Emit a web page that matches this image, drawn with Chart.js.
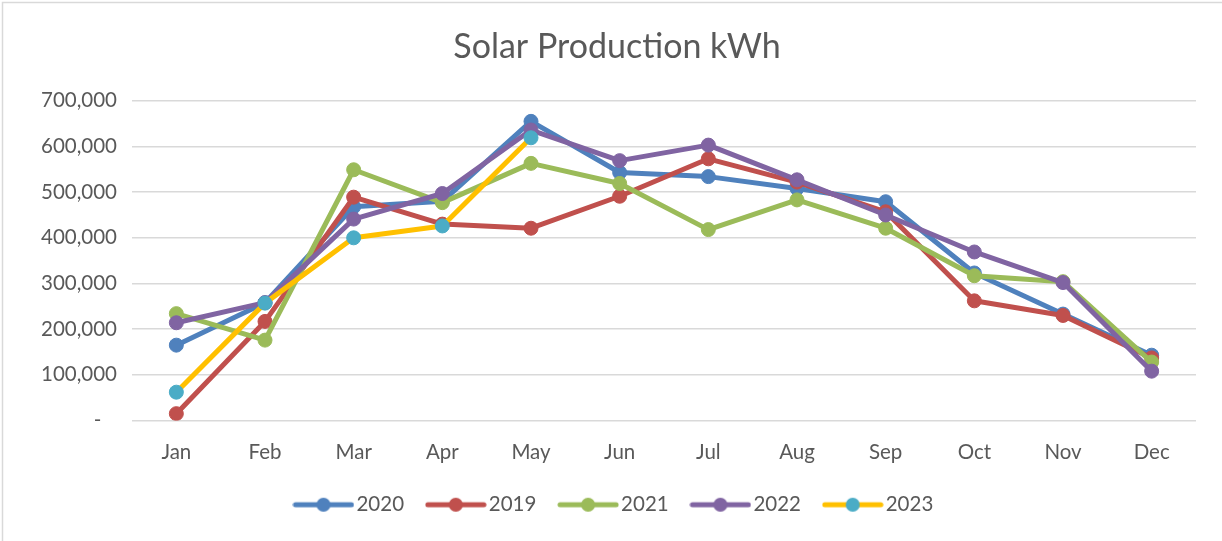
<!DOCTYPE html>
<html>
<head>
<meta charset="utf-8">
<title>Solar Production kWh</title>
<script src="https://cdn.jsdelivr.net/npm/chart.js@4.4.0/dist/chart.umd.min.js"></script>
<style>
    html, body { margin: 0; padding: 0; background: #fff; }
    #wrap { width: 1222px; height: 541px; }
</style>
</head>
<body>
<div id="wrap"><canvas id="solarChart" width="1222" height="541"></canvas></div>
<script>
// values (kWh per month)
const months = ['Jan', 'Feb', 'Mar', 'Apr', 'May', 'Jun', 'Jul', 'Aug', 'Sep', 'Oct', 'Nov', 'Dec'];
const prod2020 = [165000, 258000, 468000, 480000, 655000, 543000, 534000, 508000, 479000, 323000, 233000, 143000];
const prod2019 = [15000, 217000, 489000, 430000, 421000, 491000, 573000, 522000, 457000, 262000, 230000, 137000];
const prod2021 = [234000, 176000, 549000, 477000, 563000, 519000, 418000, 483000, 421000, 317000, 304000, 128000];
const prod2022 = [214000, 258000, 441000, 497000, 636000, 569000, 603000, 527000, 450000, 369000, 302000, 108000];
const prod2023 = [62000, 257000, 400000, 426000, 619000];
const yTicks = [0, 100000, 200000, 300000, 400000, 500000, 600000, 700000];

const textColor = '#595959';
const gridColor = '#d9d9d9';
const fontFamily = 'Lato, "Open Sans", sans-serif';

// little "line with marker" picture for the legend, like Excel does
function legendIcon(lineColor, markerColor) {
    const c = document.createElement('canvas');
    c.width = 62;
    c.height = 16;
    const g = c.getContext('2d');
    g.strokeStyle = lineColor;
    g.lineWidth = 5;
    g.lineCap = 'round';
    g.beginPath();
    g.moveTo(3, 8);
    g.lineTo(59, 8);
    g.stroke();
    g.fillStyle = markerColor;
    g.beginPath();
    g.arc(31, 8, 7, 0, Math.PI * 2);
    g.fill();
    return c;
}

function makeSeries(label, data, lineColor, markerColor, order) {
    return {
        label: label,
        data: data,
        borderColor: lineColor,
        backgroundColor: markerColor,
        pointBackgroundColor: markerColor,
        pointBorderColor: markerColor,
        borderWidth: 5,
        pointRadius: 7,
        pointBorderWidth: 1,
        borderJoinStyle: 'round',
        borderCapStyle: 'round',
        tension: 0,
        fill: false,
        order: order, // later series sit on top, as in Excel
        icon: legendIcon(lineColor, markerColor)
    };
}

// thin frame on top / left edge of the screenshot
const framePlugin = {
    id: 'frame',
    beforeDraw(chart) {
        const ctx = chart.ctx;
        ctx.save();
        ctx.strokeStyle = gridColor;
        ctx.lineWidth = 1.5;
        ctx.beginPath();
        ctx.moveTo(2.5, chart.height);
        ctx.lineTo(2.5, 2.5);
        ctx.lineTo(chart.width, 2.5);
        ctx.stroke();
        ctx.restore();
    }
};

function initChart() {
    const ctx = document.getElementById('solarChart');
    const tickFont = { family: fontFamily, size: 20.5 };

    new Chart(ctx, {
        type: 'line',
        data: {
            labels: months,
            datasets: [
                makeSeries('2020', prod2020, '#4f81bd', '#4f81bd', 5),
                makeSeries('2019', prod2019, '#c0504d', '#c0504d', 4),
                makeSeries('2021', prod2021, '#9bbb59', '#9bbb59', 3),
                makeSeries('2022', prod2022, '#8064a2', '#8064a2', 2),
                makeSeries('2023', prod2023, '#ffc000', '#4bacc6', 1)
            ]
        },
        options: {
            responsive: false,
            animation: false,
            layout: {
                padding: { top: 0, left: 12, right: 0, bottom: 16 }
            },
            plugins: {
                title: {
                    display: true,
                    text: 'Solar Production kWh',
                    color: textColor,
                    font: { family: fontFamily, size: 34, weight: 'normal' },
                    padding: { top: 27, bottom: 33 }
                },
                legend: {
                    position: 'bottom',
                    labels: {
                        usePointStyle: true,
                        pointStyleWidth: 45.5,
                        padding: 29,
                        color: textColor,
                        font: tickFont,
                        generateLabels: function(chart) {
                            return chart.data.datasets.map((ds, i) => ({
                                text: ds.label,
                                pointStyle: ds.icon,
                                fontColor: textColor,
                                lineWidth: 0,
                                hidden: false,
                                datasetIndex: i
                            }));
                        }
                    }
                },
                tooltip: { enabled: false }
            },
            scales: {
                x: {
                    offset: true,
                    grid: { display: false },
                    border: { display: false },
                    ticks: {
                        color: textColor,
                        font: tickFont,
                        padding: 12,
                        maxRotation: 0
                    },
                    afterFit: function(scale) { scale.height = 45; }
                },
                y: {
                    min: yTicks[0],
                    max: yTicks[yTicks.length - 1],
                    afterBuildTicks: function(scale) {
                        scale.ticks = yTicks.map(v => ({ value: v }));
                    },
                    grid: { color: gridColor, lineWidth: 1.5, drawTicks: false },
                    border: { display: false },
                    ticks: {
                        color: textColor,
                        font: tickFont,
                        padding: 15,
                        callback: function(value) {
                            // accounting style: zero shows as a dash
                            return value === 0 ? '-   ' : value.toLocaleString('en-US');
                        }
                    },
                    afterFit: function(scale) { scale.width = 120; }
                },
                yRight: {
                    position: 'right',
                    grid: { display: false },
                    border: { display: false },
                    ticks: { display: false },
                    afterFit: function(scale) { scale.width = 26; }
                }
            }
        },
        plugins: [framePlugin]
    });
}

document.fonts.load('20px Lato').then(initChart, initChart);
</script>
</body>
</html>
